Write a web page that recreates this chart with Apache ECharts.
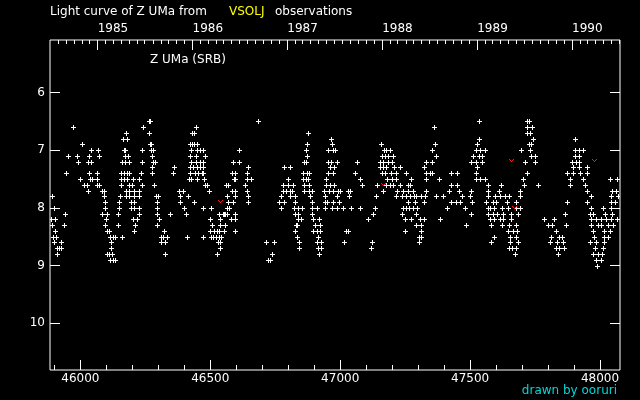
<!DOCTYPE html>
<html><head><meta charset="utf-8">
<script src="https://cdn.jsdelivr.net/npm/echarts@6/dist/echarts.min.js"></script>
<style>html,body{margin:0;padding:0;background:#000;}#c{width:640px;height:400px;}</style>
</head><body><div id="c"></div>
<script>
// ---- axis ticks / labels ----
const jdTicks = [46000, 46500, 47000, 47500, 48000];
const jdMinorTicks = [45900,46000,46100,46200,46300,46400,46500,46600,46700,46800,46900,47000,47100,47200,47300,47400,47500,47600,47700,47800,47900,48000];
const yearTicks = [46066.5, 46431.5, 46796.5, 47161.5, 47527.5, 47892.5];
const yearLabels = ['1985', '1986', '1987', '1988', '1989', '1990'];
const magTicks = [6, 7, 8, 9, 10];
const jdRange = [45883, 48077];
const magRange = [5.09, 10.81];

// ---- observations [JD-2400000, magnitude] ----
const season1985 = [
[45890,7.8],[45899,8.0],[45887,8.2],[45903,8.2],[45892,8.3],[45935,8.3],[45904,8.4],[45896,8.5],[45906,8.5],[45900,8.6],[45927,8.6],[45909,8.7],[45918,8.7],[45927,8.7],[45909,8.8],[45942,8.1],[45946,7.4],[45954,7.1],[45973,6.6],[45986,7.1],[45989,7.2],[46008,6.9],[46000,7.5],
[46031,7.2],[46041,7.2],[46035,7.4],[46063,7.4],[46042,7.0],[46069,7.0],[46035,7.1],[46071,7.1],[46037,7.5],[46044,7.5],[46063,7.5],[46012,7.6],[46024,7.6],[46063,7.6],[46073,7.6],[46031,7.7],[46082,7.7],[46091,7.7],[46092,7.8],[46096,7.9],[46095,8.0],[46082,8.1],[46101,8.1],[46100,8.2],[46095,8.3],[46101,8.4],[46112,8.4],[46114,8.5],[46124,8.5],[46135,8.5],[46119,8.6],[46119,8.7],[46101,8.8],[46112,8.8],[46122,8.8],[46114,8.9],[46124,8.9],[46135,8.9],
[46144,8.3],[46162,8.5],[46146,8.1],[46148,7.9],[46148,8.0],[46153,7.8]
];
const season1986 = [
[46165,6.8],[46181,6.8],[46177,6.7],[46168,7.0],[46172,7.0],[46237,7.0],[46172,7.1],[46185,7.1],[46160,7.2],[46172,7.2],[46186,7.2],[46238,7.2],[46158,7.4],[46168,7.4],[46178,7.4],[46189,7.4],[46235,7.4],[46155,7.5],[46168,7.5],[46181,7.5],[46201,7.5],[46227,7.5],[46158,7.6],[46189,7.6],[46199,7.6],[46238,7.6],[46174,7.7],[46189,7.7],[46206,7.7],[46227,7.7],[46174,7.8],[46189,7.8],[46208,7.8],[46226,7.8],[46194,7.9],[46208,7.9],[46194,8.0],[46208,8.0],[46225,8.0],[46227,8.1],[46201,8.2],[46217,8.2],[46210,8.3],[46208,8.4],
[46242,6.6],[46263,6.5],[46268,6.5],[46265,6.7],[46268,6.9],[46273,6.9],[46271,7.0],[46279,7.0],[46277,7.1],[46278,7.2],[46289,7.2],[46276,7.3],[46277,7.4],[46285,7.6],[46291,7.8],[46297,7.8],[46294,7.9],[46293,8.0],[46294,8.1],[46304,8.2],[46294,8.3],[46309,8.5],[46319,8.5],[46335,8.5],[46309,8.6],[46327,8.6],[46327,8.8],[46322,8.4],[46346,8.1],
[46362,7.3],[46358,7.4],[46378,7.7],[46394,7.7],[46383,7.8],[46414,7.8],[46385,7.9],[46398,8.0],[46408,8.1],[46410,8.5],[46439,7.9],
[46419,7.5],[46425,7.5],[46450,7.5],[46476,7.5],[46420,7.4],[46441,7.4],[46454,7.4],[46467,7.4],[46473,7.4],[46481,7.6],[46486,7.6],[46420,7.3],[46435,7.3],[46448,7.3],[46460,7.3],[46473,7.3],[46425,7.2],[46446,7.2],[46459,7.2],[46472,7.2],[46422,7.1],[46446,7.1],[46481,7.1],[46425,7.0],[46448,7.0],[46459,7.0],[46472,7.0],[46420,6.9],[46429,6.9],[46437,6.9],[46448,6.9],[46431,6.7],[46439,6.7],[46446,6.6],[46496,7.7],[46473,8.0],[46504,8.0],
[46497,8.2],[46537,8.2],[46506,8.3],[46537,8.3],[46558,8.3],[46473,8.5],[46501,8.5],[46512,8.5],[46522,8.5],[46532,8.5],[46542,8.5],[46499,8.4],[46514,8.4],[46524,8.4],[46535,8.4],[46553,8.4],[46530,8.6],[46537,8.7],[46524,8.8],[46532,8.1],[46550,8.1],[46558,8.1],[46596,8.1],
[46563,7.8],[46595,7.8],[46570,7.9],[46586,7.9],[46566,8.0],[46573,8.0],[46568,7.6],[46582,7.7],[46596,7.7],[46583,7.4],[46596,7.4],[46590,7.5],[46596,7.5],[46588,7.2],[46610,7.2],[46610,7.0],[46581,8.2],[46596,8.2],[46596,8.4],
[46646,7.3],[46642,7.4],[46642,7.5],[46657,7.5],[46560,7.6],[46634,7.6],[46642,7.7],[46647,7.8],[46646,7.9],[46552,8.1],[46563,8.1],[46552,8.4],[46541,8.5],[46537,8.6]
];
const season1987 = [
[46714,8.6],[46746,8.6],[46738,8.8],[46723,8.9],[46729,8.9],[46684,6.5],
[46784,7.3],[46806,7.3],[46800,7.5],[46781,7.6],[46800,7.6],[46819,7.6],[46778,7.7],[46793,7.7],[46806,7.7],[46816,7.7],[46774,7.8],[46806,7.8],[46827,7.8],[46765,7.9],[46784,7.9],[46827,7.9],[46774,8.0],[46822,8.0],[46838,8.0],[46854,8.0],[46827,8.1],[46836,8.1],[46838,8.2],[46849,8.2],[46829,8.3],[46834,8.3],[46827,8.4],[46834,8.5],[46842,8.6],[46841,8.7],
[46877,6.7],[46873,6.9],[46868,7.0],[46872,7.1],[46860,7.2],[46868,7.2],[46857,7.4],[46873,7.4],[46881,7.4],[46857,7.5],[46868,7.5],[46877,7.5],[46860,7.6],[46881,7.6],[46860,7.7],[46881,7.7],[46891,7.7],[46883,7.8],[46893,7.9],[46893,8.0],[46909,8.0],[46890,8.1],[46896,8.2],[46919,8.2],[46902,8.3],[46922,8.3],[46896,8.4],[46909,8.4],[46922,8.4],[46915,8.5],[46909,8.6],[46928,8.6],[46913,8.7],[46928,8.7],[46919,8.8],
[46942,7.8],[46945,7.6],[46960,7.6],[46975,7.6],[46938,7.7],[46955,7.7],[46947,7.5],[46954,7.4],[46973,7.4],[46960,7.3],[46977,7.3],[46954,7.2],[46964,7.2],[46988,7.2],[46954,7.0],[46973,7.0],[46981,7.0],[46969,6.9],[46966,6.8],[46942,7.9],[46950,7.9],[46941,8.0],[46968,8.0],[46988,8.0],[47009,8.0],[46973,7.7],[46992,7.7],[47001,7.7],[47031,7.7],[47037,7.7],[46988,7.8],[47034,7.8],[46973,7.9],[46996,7.9],[47024,8.4],[47031,8.4],[47014,8.6],[47042,8.0],
[47065,7.2],[47057,7.4],[47075,7.5],[47084,7.6],[47077,8.0],[47107,8.2],[47127,8.1],[47134,8.0],[47138,7.8],[47142,7.6],[47165,7.7],[47120,8.7],[47123,8.6]
];
const season1988 = [
[47156,6.9],[47168,7.0],[47178,7.0],[47191,7.0],[47159,7.1],[47172,7.1],[47184,7.1],[47204,7.1],[47152,7.2],[47165,7.2],[47184,7.2],[47200,7.2],[47152,7.3],[47165,7.3],[47178,7.3],[47206,7.3],[47229,7.3],[47159,7.4],[47172,7.4],[47197,7.4],[47216,7.4],[47252,7.4],[47182,7.5],[47200,7.5],[47216,7.5],[47273,7.5],[47178,7.6],[47191,7.6],[47204,7.6],[47229,7.6],[47261,7.6],[47270,7.6],[47219,7.7],[47242,7.7],[47261,7.7],[47281,7.7],[47213,7.8],[47236,7.8],[47252,7.8],[47268,7.8],[47283,7.8],[47293,7.8],[47261,7.9],[47287,7.9],[47240,8.0],[47252,8.0],[47265,8.0],[47281,8.0],[47296,8.0],[47236,8.1],[47293,8.1],[47250,8.2],[47273,8.2],[47293,8.3],[47250,8.4],[47302,8.5],[47302,8.6],
[47361,6.6],[47365,6.9],[47355,7.0],[47368,7.1],[47332,7.2],[47352,7.2],[47324,7.3],[47332,7.4],[47347,7.4],[47355,7.4],[47329,7.5],[47379,7.5],[47428,7.4],[47450,7.4],[47426,7.6],[47450,7.6],[47329,7.7],[47418,7.7],[47456,7.7],[47312,7.8],[47325,7.8],[47370,7.8],[47396,7.8],[47321,7.9],[47428,7.9],[47444,7.9],[47460,7.9],[47411,8.0],[47479,8.0],[47505,8.1],[47306,8.2],[47321,8.2],[47383,8.2],[47312,8.3],[47485,8.3],[47312,8.4],[47312,8.5]
];
const season1989 = [
[47534,6.5],[47534,6.8],[47526,6.9],[47524,7.0],[47537,7.0],[47557,7.0],[47511,7.1],[47534,7.1],[47544,7.1],[47505,7.2],[47524,7.2],[47544,7.2],[47526,7.3],[47521,7.4],[47521,7.5],[47537,7.5],[47557,7.5],[47569,7.6],[47620,7.6],[47505,7.7],[47569,7.7],[47611,7.7],[47470,7.8],[47500,7.8],[47569,7.8],[47594,7.8],[47614,7.8],[47634,7.8],[47650,7.8],[47447,7.9],[47460,7.9],[47509,7.9],[47562,7.9],[47588,7.9],[47601,7.9],[47642,7.9],[47678,7.9],[47569,8.0],[47575,8.0],[47591,8.0],[47624,8.0],[47646,8.0],[47678,8.0],[47691,8.0],[47569,8.1],[47588,8.1],[47603,8.1],[47626,8.1],[47658,8.1],[47684,8.1],[47575,8.2],[47591,8.2],[47614,8.2],[47626,8.2],[47658,8.2],[47582,8.3],[47624,8.3],[47650,8.3],[47678,8.3],[47646,8.4],[47665,8.4],[47680,8.4],[47591,8.5],[47652,8.5],[47678,8.5],[47582,8.6],[47652,8.6],[47684,8.6],[47650,8.7],[47662,8.7],[47678,8.7],[47673,8.8],
[47719,6.5],[47727,6.5],[47719,6.6],[47738,6.6],[47719,6.7],[47732,6.7],[47742,6.8],[47727,6.9],[47735,6.9],[47697,7.0],[47732,7.0],[47735,7.1],[47750,7.1],[47711,7.2],[47750,7.2],[47719,7.4],[47703,7.5],[47706,7.6],[47761,7.6],[47691,7.7],[47693,7.8],
[47784,8.2],[47823,8.2],[47799,8.3],[47815,8.3],[47868,8.3],[47812,8.5],[47844,8.5],[47853,8.5],[47829,8.4],[47806,8.6],[47835,8.6],[47857,8.6],[47832,8.7],[47844,8.7],[47860,8.7],[47838,8.8]
];
const season1990 = [
[47903,6.8],[47903,7.0],[47921,7.0],[47934,7.0],[47903,7.1],[47919,7.1],[47893,7.2],[47908,7.2],[47919,7.2],[47896,7.3],[47919,7.3],[47949,7.3],[47874,7.4],[47896,7.4],[47924,7.4],[47949,7.4],[47883,7.5],[47934,7.5],[48038,7.5],[48065,7.5],[47885,7.6],[47942,7.6],[47949,7.7],[48047,7.7],[48062,7.7],[47966,7.8],[48043,7.8],[48070,7.8],[47873,7.9],[47949,7.9],[48043,7.9],[48056,7.9],[47865,8.1],[47960,8.1],[47973,8.1],[48020,8.1],[48047,8.1],[47966,8.0],[48011,8.0],[48043,8.0],[47966,8.2],[47985,8.2],[48005,8.2],[48024,8.2],[48043,8.2],[48065,8.2],[47966,8.3],[47992,8.3],[48005,8.3],[48030,8.3],[48049,8.3],[47973,8.4],[48017,8.4],[48037,8.4],[47977,8.5],[48017,8.5],[48030,8.5],[47960,8.6],[47985,8.6],[48017,8.6],[47979,8.7],[48011,8.7],[47973,8.8],[47992,8.8],[48009,8.8],[47985,8.9],[48005,8.9],[47989,9.0]
];
const redMarks = [[46538,7.88],[47163,7.58],[47659,7.17],[47668,7.98],[47976,7.17]];

// month ticks for the top (year) axis: first day of each month
const monthTicks = [];
for (let y = 1984; y <= 1990; y++) {
  for (let m = 0; m < 12; m++) {
    const v = Date.UTC(y, m, 1) / 86400000 + 40587.5;
    if (v >= jdRange[0] && v <= jdRange[1]) monthTicks.push(v);
  }
}

const observations = [].concat(season1985, season1986, season1987, season1988, season1989, season1990);

const FONT = 'DejaVu Sans';
const white = '#ffffff';

function plusItem(params, api) {
  const p = api.coord([api.value(0), api.value(1)]);
  const x = Math.round(p[0]), y = Math.round(p[1]);
  return { type: 'group', children: [
    { type: 'rect', shape: { x: x - 2, y: y, width: 5, height: 1 }, style: { fill: white } },
    { type: 'rect', shape: { x: x, y: y - 2, width: 1, height: 5 }, style: { fill: white } }
  ]};
}
function vItem(params, api) {
  const p = api.coord([api.value(0), api.value(1)]);
  const x = Math.round(p[0]), y = Math.round(p[1]);
  const px = [[-2, -1], [-1, 0], [0, 1], [1, 0], [2, -1]];
  return { type: 'group', children: px.map(function (d) {
    return { type: 'rect', shape: { x: x + d[0], y: y + d[1], width: 1, height: 1 }, style: { fill: '#ff1818' } };
  }) };
}

function xAx(extra) {
  return Object.assign({
    type: 'value', min: jdRange[0], max: jdRange[1], gridIndex: 0,
    axisLine: { show: false }, splitLine: { show: false },
    axisTick: { show: false }, axisLabel: { show: false }
  }, extra);
}
function yAx(extra) {
  return Object.assign({
    type: 'value', min: magRange[0], max: magRange[1], inverse: true,
    axisLine: { show: false }, splitLine: { show: false },
    axisTick: { show: false }, axisLabel: { show: false }
  }, extra);
}

const chart = echarts.init(document.getElementById('c'), null, { renderer: 'canvas' });
chart.setOption({
  backgroundColor: '#000',
  animation: false,
  grid: { left: 50, right: 20, top: 40, bottom: 30, show: true, borderColor: white, borderWidth: 1, backgroundColor: 'transparent' },
  xAxis: [
    xAx({ position: 'bottom',
      axisTick: { show: true, inside: true, length: 10, customValues: jdTicks, lineStyle: { color: white, width: 1 } },
      axisLabel: { show: true, customValues: jdTicks, color: white, fontFamily: FONT, fontSize: 12, margin: 3,
        formatter: function (v) { return String(v); } } }),
    xAx({ position: 'bottom',
      axisTick: { show: true, inside: true, length: 5, customValues: jdMinorTicks, lineStyle: { color: white, width: 1 } } }),
    xAx({ position: 'top',
      axisTick: { show: true, inside: true, length: 10, customValues: yearTicks, lineStyle: { color: white, width: 1 } },
      axisLabel: { show: true, customValues: yearTicks, color: white, fontFamily: FONT, fontSize: 12, margin: 5, align: 'left',
        formatter: function (v) { const i = yearTicks.indexOf(v); return i >= 0 ? yearLabels[i] : ''; } } }),
    xAx({ position: 'top',
      axisTick: { show: true, inside: true, length: 4, customValues: monthTicks, lineStyle: { color: white, width: 1 } } })
  ],
  yAxis: [
    yAx({ position: 'left',
      axisTick: { show: true, inside: true, length: 10, customValues: magTicks, lineStyle: { color: white, width: 1 } },
      axisLabel: { show: true, customValues: magTicks, color: white, fontFamily: FONT, fontSize: 12, margin: 5 } }),
    yAx({ position: 'right',
      axisTick: { show: true, inside: true, length: 10, customValues: magTicks, lineStyle: { color: white, width: 1 } } })
  ],
  series: [
    { type: 'custom', xAxisIndex: 0, yAxisIndex: 0, data: observations, renderItem: plusItem, encode: { x: 0, y: 1 }, silent: true, clip: true },
    { type: 'custom', xAxisIndex: 0, yAxisIndex: 0, data: redMarks, renderItem: vItem, encode: { x: 0, y: 1 }, silent: true, clip: true }
  ],
  graphic: [
    { type: 'text', left: 50, top: 6, style: { text: 'Light curve of Z UMa from', fill: white, font: '12px "DejaVu Sans"' } },
    { type: 'text', left: 229, top: 6, style: { text: 'VSOLJ', fill: '#ffff00', font: '12px "DejaVu Sans"' } },
    { type: 'text', left: 275, top: 6, style: { text: 'observations', fill: white, font: '12px "DejaVu Sans"' } },
    { type: 'text', left: 150, top: 54, style: { text: 'Z UMa (SRB)', fill: white, font: '12px "DejaVu Sans"' } },
    { type: 'text', right: 23, top: 385, style: { text: 'drawn by ooruri', fill: '#00d8d8', font: '12px "DejaVu Sans"' } }
  ]
});
</script></body></html>
